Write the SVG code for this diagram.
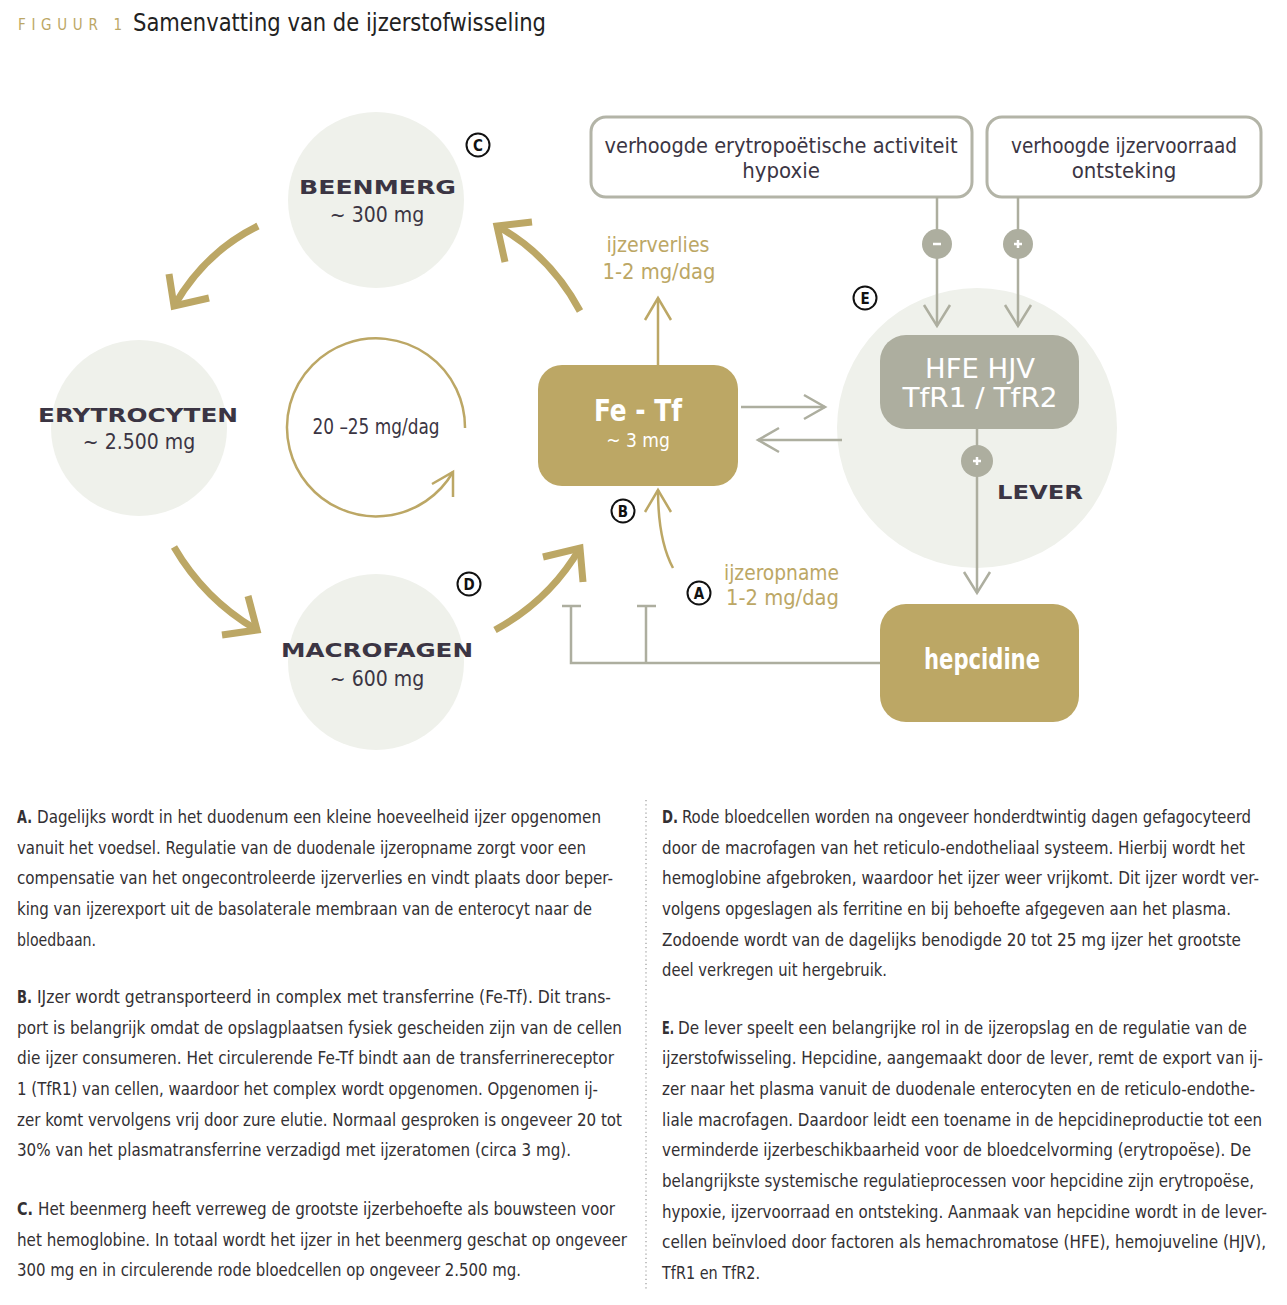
<svg xmlns="http://www.w3.org/2000/svg" width="1287" height="1305" viewBox="0 0 1287 1305">
<style>
.f{font-family:"Liberation Sans Narrow","DejaVu Sans Condensed","Liberation Sans",sans-serif}
.dark{fill:#3b3543}
.gold{fill:#bca765}
.wh{fill:#ffffff}
.body{font-family:"Liberation Sans Narrow","DejaVu Sans Condensed","Liberation Sans",sans-serif;font-size:17px;fill:#333033}
.bl{font-weight:bold}
.head{font-family:"DejaVu Sans","Liberation Sans",sans-serif;font-weight:bold;font-size:20px;fill:#3b3543}
.bub{fill:#eff1eb}
.ga{fill:none;stroke:#bca765;stroke-width:7;stroke-linecap:butt;stroke-linejoin:miter}
.gt{fill:none;stroke:#bca765;stroke-width:2.5}
.gr{fill:none;stroke:#adae9f;stroke-width:2.5}
.lab{font-family:"DejaVu Sans Condensed","Liberation Sans",sans-serif;font-weight:bold;font-size:15px;fill:#111}
.lc{fill:#fff;stroke:#111;stroke-width:2}
</style>

<g id="title">
<text class="f gold" x="18" y="30" font-size="15" textLength="104" lengthAdjust="spacing">FIGUUR 1</text>
<text class="f" x="133" y="31" font-size="25" fill="#222" textLength="413" lengthAdjust="spacingAndGlyphs">Samenvatting van de ijzerstofwisseling</text>
</g>

<g id="beenmerg">
<circle class="bub" cx="376" cy="200" r="88"/>
<text class="head" x="299" y="194" textLength="157" lengthAdjust="spacingAndGlyphs">BEENMERG</text>
<text class="f dark" x="377" y="222" font-size="21" text-anchor="middle">~ 300 mg</text>
</g>

<g id="erytrocyten">
<circle class="bub" cx="139" cy="428" r="88"/>
<text class="head" x="38" y="422" textLength="200" lengthAdjust="spacingAndGlyphs">ERYTROCYTEN</text>
<text class="f dark" x="139" y="449" font-size="21" text-anchor="middle">~ 2.500 mg</text>
</g>

<g id="macrofagen">
<circle class="bub" cx="376" cy="662" r="88"/>
<text class="head" x="281" y="657" textLength="192" lengthAdjust="spacingAndGlyphs">MACROFAGEN</text>
<text class="f dark" x="377" y="686" font-size="21" text-anchor="middle">~ 600 mg</text>
</g>

<g id="lever">
<circle class="bub" cx="977" cy="428" r="140"/>
<text class="head" x="997" y="499" textLength="86" lengthAdjust="spacingAndGlyphs">LEVER</text>
</g>

<g id="cycle">
<path class="gt" d="M465,428 A89,89 0 1 0 453,472"/>
<polyline class="gt" points="432,484 453,472 453,497"/>
<text class="f dark" x="376" y="434" font-size="21" text-anchor="middle" textLength="127" lengthAdjust="spacingAndGlyphs">20 –25 mg/dag</text>
</g>

<g id="fetf">
<rect x="538" y="365" width="200" height="121" rx="24" fill="#bca765"/>
<text class="f wh" x="638" y="421" font-size="30" font-weight="bold" text-anchor="middle" textLength="88" lengthAdjust="spacingAndGlyphs">Fe - Tf</text>
<text class="f wh" x="638" y="447" font-size="19" text-anchor="middle">~ 3 mg</text>
</g>

<g id="box-ery">
<rect x="591" y="117" width="381" height="80" rx="15" fill="#fff" stroke="#b3b4a7" stroke-width="3"/>
<text class="f dark" x="781" y="153" font-size="22" text-anchor="middle" textLength="353" lengthAdjust="spacingAndGlyphs">verhoogde erytropoëtische activiteit</text>
<text class="f dark" x="781" y="178" font-size="22" text-anchor="middle">hypoxie</text>
</g>

<g id="box-ijzer">
<rect x="987" y="117" width="274" height="80" rx="15" fill="#fff" stroke="#b3b4a7" stroke-width="3"/>
<text class="f dark" x="1124" y="153" font-size="22" text-anchor="middle" textLength="226" lengthAdjust="spacingAndGlyphs">verhoogde ijzervoorraad</text>
<text class="f dark" x="1124" y="178" font-size="22" text-anchor="middle">ontsteking</text>
</g>

<g id="hfe">
<rect x="880" y="335" width="199" height="94" rx="26" fill="#adae9f"/>
<text class="f wh" x="980" y="378" font-size="27" text-anchor="middle" textLength="110" lengthAdjust="spacingAndGlyphs">HFE HJV</text>
<text class="f wh" x="980" y="407" font-size="27" text-anchor="middle" textLength="155" lengthAdjust="spacingAndGlyphs">TfR1 / TfR2</text>
</g>

<g id="hepcidine">
<rect x="880" y="604" width="199" height="118" rx="26" fill="#bca765"/>
<text class="f wh" x="982" y="669" font-size="29" font-weight="bold" text-anchor="middle" textLength="116" lengthAdjust="spacingAndGlyphs">hepcidine</text>
</g>

<g id="connectors">
<path class="ga" d="M258,226 Q205,252 174,306"/>
<polyline class="ga" points="169,274 174,306 209,298"/>
<path class="ga" d="M174,547 Q205,600 257,630"/>
<polyline class="ga" points="248,596 257,630 222,635"/>
<path class="ga" d="M495,630 Q550,600 580,548"/>
<polyline class="ga" points="543,557 580,548 583,582"/>
<path class="ga" d="M580,311 Q550,255 497,226"/>
<polyline class="ga" points="532,222 497,226 505,262"/>

<line class="gt" x1="658" y1="365" x2="658" y2="298"/>
<polyline class="gt" points="645,320 658,298 671,320"/>
<path class="gt" d="M673,568 Q658,540 658,490"/>
<polyline class="gt" points="645,512 658,490 671,512"/>

<line class="gr" x1="741" y1="407" x2="825" y2="407"/>
<polyline class="gr" points="804,395 825,407 804,419"/>
<line class="gr" x1="842" y1="440" x2="758" y2="440"/>
<polyline class="gr" points="779,428 758,440 779,452"/>

<line class="gr" x1="937" y1="197" x2="937" y2="326"/>
<polyline class="gr" points="924,305 937,326 950,305"/>
<line class="gr" x1="1018" y1="197" x2="1018" y2="326"/>
<polyline class="gr" points="1005,305 1018,326 1031,305"/>
<line class="gr" x1="977" y1="429" x2="977" y2="593"/>
<polyline class="gr" points="964,572 977,593 990,572"/>

<circle cx="937" cy="244" r="15" fill="#adae9f"/>
<line x1="933" y1="244" x2="941" y2="244" stroke="#fff" stroke-width="2.5"/>
<circle cx="1018" cy="244" r="15" fill="#adae9f"/>
<path d="M1014,244 H1022 M1018,240 V248" stroke="#fff" stroke-width="2.5"/>
<circle cx="977" cy="461" r="16" fill="#adae9f"/>
<path d="M973,461 H981 M977,457 V465" stroke="#fff" stroke-width="2.5"/>

<polyline class="gr" points="880,663 571,663 571,606"/>
<line class="gr" x1="562" y1="606" x2="581" y2="606"/>
<line class="gr" x1="646" y1="663" x2="646" y2="606"/>
<line class="gr" x1="637" y1="606" x2="656" y2="606"/>
</g>

<g id="gold-labels">
<text class="f gold" x="658" y="252" font-size="22" text-anchor="middle" textLength="103" lengthAdjust="spacingAndGlyphs">ijzerverlies</text>
<text class="f gold" x="659" y="279" font-size="22" text-anchor="middle" textLength="113" lengthAdjust="spacingAndGlyphs">1-2 mg/dag</text>
<text class="f gold" x="724" y="580" font-size="22" textLength="115" lengthAdjust="spacingAndGlyphs">ijzeropname</text>
<text class="f gold" x="726" y="605" font-size="22" textLength="113" lengthAdjust="spacingAndGlyphs">1-2 mg/dag</text>
</g>

<g id="letters">
<circle class="lc" cx="478" cy="145" r="11.5"/><text class="lab" x="478" y="150.5" text-anchor="middle">C</text>
<circle class="lc" cx="865" cy="298" r="11.5"/><text class="lab" x="865" y="303.5" text-anchor="middle">E</text>
<circle class="lc" cx="623" cy="511" r="11.5"/><text class="lab" x="623" y="516.5" text-anchor="middle">B</text>
<circle class="lc" cx="469" cy="584" r="11.5"/><text class="lab" x="469" y="589.5" text-anchor="middle">D</text>
<circle class="lc" cx="699" cy="593" r="11.5"/><text class="lab" x="699" y="598.5" text-anchor="middle">A</text>
</g>

<line x1="646" y1="800" x2="646" y2="1290" stroke="#9a9a9a" stroke-width="1.2" stroke-dasharray="1.2 3"/>

<g id="text-left">
<text class="body bl" x="17" y="823" textLength="15" lengthAdjust="spacingAndGlyphs">A.</text>
<text class="body" x="37" y="823" textLength="564" lengthAdjust="spacingAndGlyphs">Dagelijks wordt in het duodenum een kleine hoeveelheid ijzer opgenomen</text>
<text class="body" x="17" y="854" textLength="569" lengthAdjust="spacingAndGlyphs">vanuit het voedsel. Regulatie van de duodenale ijzeropname zorgt voor een</text>
<text class="body" x="17" y="884" textLength="596" lengthAdjust="spacingAndGlyphs">compensatie van het ongecontroleerde ijzerverlies en vindt plaats door beper-</text>
<text class="body" x="17" y="915" textLength="575" lengthAdjust="spacingAndGlyphs">king van ijzerexport uit de basolaterale membraan van de enterocyt naar de</text>
<text class="body" x="17" y="946" textLength="79" lengthAdjust="spacingAndGlyphs">bloedbaan.</text>

<text class="body bl" x="17" y="1003" textLength="15" lengthAdjust="spacingAndGlyphs">B.</text>
<text class="body" x="37" y="1003" textLength="574" lengthAdjust="spacingAndGlyphs">IJzer wordt getransporteerd in complex met transferrine (Fe-Tf). Dit trans-</text>
<text class="body" x="17" y="1034" textLength="605" lengthAdjust="spacingAndGlyphs">port is belangrijk omdat de opslagplaatsen fysiek gescheiden zijn van de cellen</text>
<text class="body" x="17" y="1064" textLength="597" lengthAdjust="spacingAndGlyphs">die ijzer consumeren. Het circulerende Fe-Tf bindt aan de transferrinereceptor</text>
<text class="body" x="17" y="1095" textLength="581" lengthAdjust="spacingAndGlyphs">1 (TfR1) van cellen, waardoor het complex wordt opgenomen. Opgenomen ij-</text>
<text class="body" x="17" y="1126" textLength="605" lengthAdjust="spacingAndGlyphs">zer komt vervolgens vrij door zure elutie. Normaal gesproken is ongeveer 20 tot</text>
<text class="body" x="17" y="1156" textLength="554" lengthAdjust="spacingAndGlyphs">30% van het plasmatransferrine verzadigd met ijzeratomen (circa 3 mg).</text>

<text class="body bl" x="17" y="1215" textLength="16" lengthAdjust="spacingAndGlyphs">C.</text>
<text class="body" x="38" y="1215" textLength="577" lengthAdjust="spacingAndGlyphs">Het beenmerg heeft verreweg de grootste ijzerbehoefte als bouwsteen voor</text>
<text class="body" x="17" y="1246" textLength="610" lengthAdjust="spacingAndGlyphs">het hemoglobine. In totaal wordt het ijzer in het beenmerg geschat op ongeveer</text>
<text class="body" x="17" y="1276" textLength="504" lengthAdjust="spacingAndGlyphs">300 mg en in circulerende rode bloedcellen op ongeveer 2.500 mg.</text>
</g>

<g id="text-right">
<text class="body bl" x="662" y="823" textLength="16" lengthAdjust="spacingAndGlyphs">D.</text>
<text class="body" x="682" y="823" textLength="569" lengthAdjust="spacingAndGlyphs">Rode bloedcellen worden na ongeveer honderdtwintig dagen gefagocyteerd</text>
<text class="body" x="662" y="854" textLength="583" lengthAdjust="spacingAndGlyphs">door de macrofagen van het reticulo-endotheliaal systeem. Hierbij wordt het</text>
<text class="body" x="662" y="884" textLength="597" lengthAdjust="spacingAndGlyphs">hemoglobine afgebroken, waardoor het ijzer weer vrijkomt. Dit ijzer wordt ver-</text>
<text class="body" x="662" y="915" textLength="569" lengthAdjust="spacingAndGlyphs">volgens opgeslagen als ferritine en bij behoefte afgegeven aan het plasma.</text>
<text class="body" x="662" y="946" textLength="579" lengthAdjust="spacingAndGlyphs">Zodoende wordt van de dagelijks benodigde 20 tot 25 mg ijzer het grootste</text>
<text class="body" x="662" y="976" textLength="225" lengthAdjust="spacingAndGlyphs">deel verkregen uit hergebruik.</text>

<text class="body bl" x="662" y="1034" textLength="12" lengthAdjust="spacingAndGlyphs">E.</text>
<text class="body" x="678" y="1034" textLength="569" lengthAdjust="spacingAndGlyphs">De lever speelt een belangrijke rol in de ijzeropslag en de regulatie van de</text>
<text class="body" x="662" y="1064" textLength="601" lengthAdjust="spacingAndGlyphs">ijzerstofwisseling. Hepcidine, aangemaakt door de lever, remt de export van ij-</text>
<text class="body" x="662" y="1095" textLength="593" lengthAdjust="spacingAndGlyphs">zer naar het plasma vanuit de duodenale enterocyten en de reticulo-endothe-</text>
<text class="body" x="662" y="1126" textLength="600" lengthAdjust="spacingAndGlyphs">liale macrofagen. Daardoor leidt een toename in de hepcidineproductie tot een</text>
<text class="body" x="662" y="1156" textLength="589" lengthAdjust="spacingAndGlyphs">verminderde ijzerbeschikbaarheid voor de bloedcelvorming (erytropoëse). De</text>
<text class="body" x="662" y="1187" textLength="592" lengthAdjust="spacingAndGlyphs">belangrijkste systemische regulatieprocessen voor hepcidine zijn erytropoëse,</text>
<text class="body" x="662" y="1218" textLength="605" lengthAdjust="spacingAndGlyphs">hypoxie, ijzervoorraad en ontsteking. Aanmaak van hepcidine wordt in de lever-</text>
<text class="body" x="662" y="1248" textLength="604" lengthAdjust="spacingAndGlyphs">cellen beïnvloed door factoren als hemachromatose (HFE), hemojuveline (HJV),</text>
<text class="body" x="662" y="1279" textLength="98" lengthAdjust="spacingAndGlyphs">TfR1 en TfR2.</text>
</g>
</svg>
